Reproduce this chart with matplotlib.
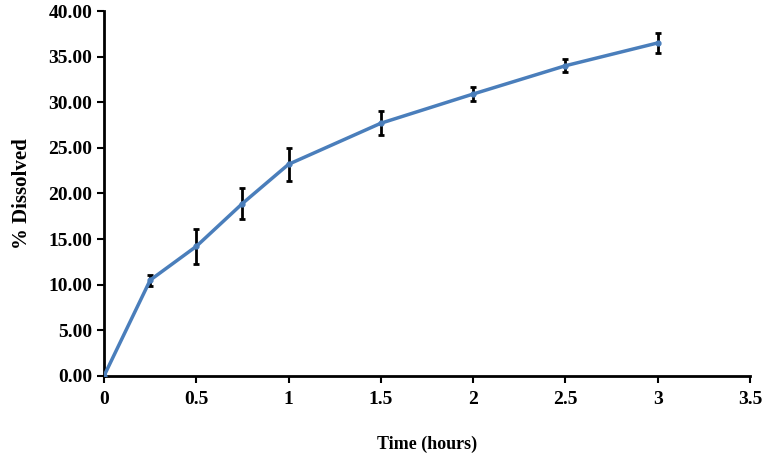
import matplotlib.pyplot as plt

# Dissolution data
time_h = [0, 0.25, 0.5, 0.75, 1, 1.5, 2, 2.5, 3]
dissolved = [0.0, 10.5, 14.2, 18.9, 23.2, 27.7, 30.9, 34.0, 36.5]
err = [0.0, 0.6, 1.9, 1.7, 1.8, 1.3, 0.8, 0.7, 1.1]

plt.rcParams['font.family'] = ['Liberation Serif', 'DejaVu Serif']
plt.rcParams['font.weight'] = 'bold'

fig = plt.figure(figsize=(7.66, 4.59), dpi=100)
ax = fig.add_axes([0.1358, 0.181, 0.8432, 0.795])

ax.errorbar(time_h, dissolved, yerr=err, color='#4a7ebb', linewidth=2.5,
            marker='o', markersize=3.5, ecolor='black', elinewidth=2,
            capsize=2.5, capthick=2, zorder=3)

ax.set_xlim(0, 3.5)
ax.set_ylim(0, 40)
ax.set_xticks([0, 0.5, 1, 1.5, 2, 2.5, 3, 3.5])
ax.set_xticklabels(['0', '0.5', '1', '1.5', '2', '2.5', '3', '3.5'])
ax.set_yticks(range(0, 41, 5))
ax.set_yticklabels(['%.2f' % v for v in range(0, 41, 5)])

for s in ['top', 'right']:
    ax.spines[s].set_visible(False)
for s in ['left', 'bottom']:
    ax.spines[s].set_linewidth(2)
ax.tick_params(direction='out', width=1.5, length=5, labelsize=14)
ax.tick_params(axis='x', pad=6)

ax.set_xlabel('Time (hours)', fontsize=13, fontweight='bold', labelpad=20)
ax.set_ylabel('% Dissolved', fontsize=15, fontweight='bold', labelpad=12)

fig.savefig('out.png', dpi=100)
